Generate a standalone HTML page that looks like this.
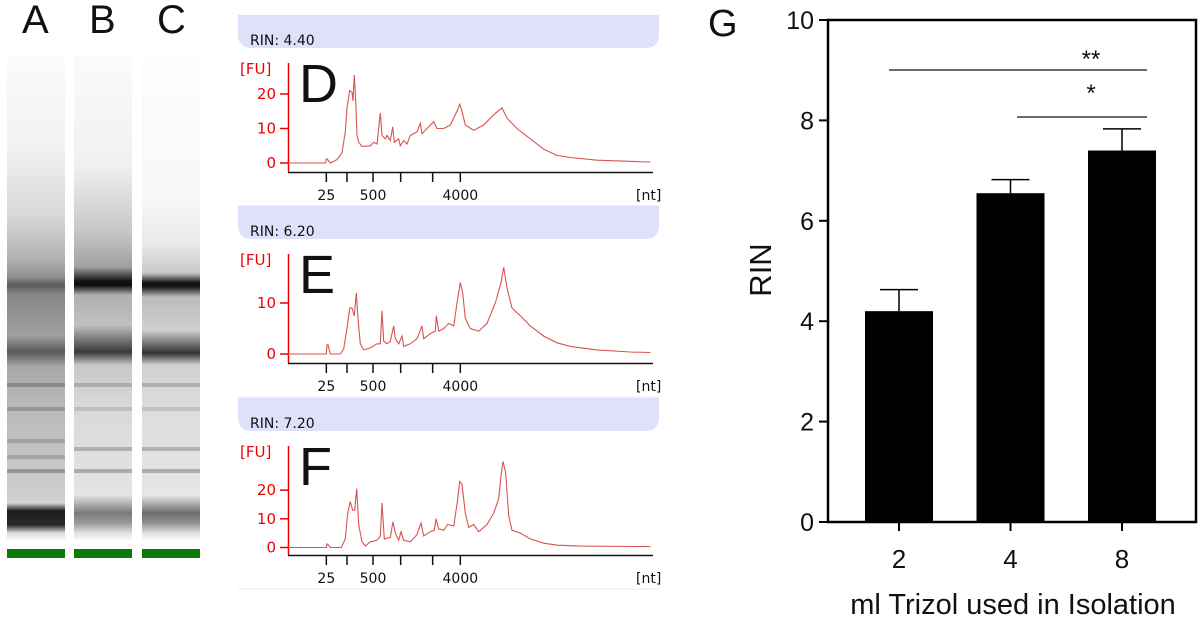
<!DOCTYPE html>
<html><head><meta charset="utf-8">
<style>
html,body{margin:0;padding:0;background:#fff;}
#root{position:relative;width:1200px;height:621px;overflow:hidden;font-family:"Liberation Sans",sans-serif;}
.lane{position:absolute;top:55px;height:485px;}
.band{position:absolute;left:0;right:0;height:4px;}
.green{position:absolute;top:549px;height:9px;background:#0a7a0a;}
.big{position:absolute;font-size:40px;color:#111;}
</style></head>
<body>
<div id="root">
  <div class="big" style="left:22px;top:-2px">A</div>
  <div class="big" style="left:89px;top:-2px">B</div>
  <div class="big" style="left:157px;top:-2px">C</div>
  <div class="lane" id="laneA" style="left:7px;width:58px;background:linear-gradient(#fbfbfb 0px,#f2f2f2 90px,#d8d8d8 160px,#b0b0b0 205px,#909090 222px,#5a5a5a 230px,#888 240px,#a0a0a0 280px,#5a5a5a 297px,#a8a8a8 312px,#b8b8b8 350px,#c4c4c4 400px,#cfcfcf 440px,#d4d4d4 448px,#1a1a1a 456px,#2a2a2a 470px,#ddd 478px,#f6f6f6 485px)">
    <div class="band" style="top:328px;background:rgba(90,90,90,.45)"></div>
    <div class="band" style="top:352px;background:rgba(90,90,90,.35)"></div>
    <div class="band" style="top:384px;background:rgba(90,90,90,.3)"></div>
    <div class="band" style="top:400px;background:rgba(90,90,90,.3)"></div>
    <div class="band" style="top:414px;background:rgba(90,90,90,.45)"></div>
  </div>
  <div class="lane" id="laneB" style="left:74px;width:58px;background:linear-gradient(#fbfbfb 0px,#f0f0f0 110px,#c8c8c8 175px,#a0a0a0 212px,#151515 226px,#0a0a0a 230px,#b0b0b0 240px,#c0c0c0 270px,#3a3a3a 297px,#c8c8c8 310px,#d8d8d8 350px,#e4e4e4 440px,#7a7a7a 458px,#999 468px,#e0e0e0 478px,#fafafa 485px)">
    <div class="band" style="top:328px;background:rgba(90,90,90,.3)"></div>
    <div class="band" style="top:352px;background:rgba(90,90,90,.2)"></div>
    <div class="band" style="top:392px;background:rgba(90,90,90,.35)"></div>
    <div class="band" style="top:414px;background:rgba(90,90,90,.4)"></div>
  </div>
  <div class="lane" id="laneC" style="left:142px;width:58px;background:linear-gradient(#fdfdfd 0px,#f8f8f8 140px,#e8e8e8 190px,#c8c8c8 218px,#111 228px,#1a1a1a 232px,#bcbcbc 242px,#cfcfcf 275px,#333 298px,#cfcfcf 310px,#dcdcdc 350px,#e6e6e6 440px,#6e6e6e 458px,#909090 468px,#e0e0e0 478px,#fafafa 485px)">
    <div class="band" style="top:328px;background:rgba(90,90,90,.3)"></div>
    <div class="band" style="top:352px;background:rgba(90,90,90,.2)"></div>
    <div class="band" style="top:392px;background:rgba(90,90,90,.35)"></div>
    <div class="band" style="top:414px;background:rgba(90,90,90,.4)"></div>
  </div>
  <div class="green" style="left:7px;width:58px"></div>
  <div class="green" style="left:74px;width:58px"></div>
  <div class="green" style="left:142px;width:58px"></div>
  <svg id="epg" width="1200" height="621" style="position:absolute;left:0;top:0"></svg>
</div>
<script>
// Electropherogram data (migration time [s], fluorescence [FU])
const dTime=[8.65,14.3,14.4,14.5,15,16,16.75,17.25,17.5,17.9,18.25,18.4,18.6,18.8,19,19.25,19.75,21,21.5,22,22.5,22.75,23.25,23.5,24,24.35,24.6,25.25,25.5,26,26.5,27,28,28.5,28.75,29.5,30.5,31,32,33,34,34.4,34.75,35.25,36.5,38,39.5,40.75,41.5,43,45,47,49,51,55,62.5,63];
const dFU  =[0,0,1.2,1.2,0,1,3,9,16,21,20.5,18,25.5,18,8,6,4.8,5,6,5.5,14.5,8,7,8,6.5,10.5,6,7,5,6.5,5.5,8,9,11.5,8.5,10,12,10,10,11,15,17,15,11,9.5,11,14,16,13,10,7,4,2.2,1.6,0.8,0.3,0.3];
const eTime=[8.65,14.4,14.5,14.65,15,16.5,17,17.5,17.9,18.25,18.6,18.9,19.15,19.5,20,21,22,22.5,22.75,23,23.5,24,24.5,24.75,25.25,25.75,26,27,28,28.75,29,30,30.75,30.9,31.25,32,32.75,33.5,34,34.5,34.85,35.25,36,37.25,38.5,39.75,40.6,41,41.5,42.25,43.5,45,47,49,51,55,60,63];
const eFU  =[0,0,1.8,1.8,0,0,1,5,9,9,7.5,12,7,2,0.8,1.2,2,2,8.5,2.5,2,2.5,5.5,3,2,3.5,1.5,2,3,5.5,3,4,4.5,7.5,4.5,5,6,5.5,10,14,12,7,5,4.5,6,10,14,17,13,9,7.5,5.5,3.5,2.2,1.5,0.8,0.4,0.3];
const fTime=[8.65,14.4,14.5,14.6,15,16.65,17.25,17.6,18,18.35,18.65,18.95,19.25,19.75,20.25,21,22,22.5,22.75,23.1,24,24.4,24.75,25.25,25.6,26,27,28,28.6,29,30,30.6,30.85,31.25,32,32.6,33.5,34,34.4,34.75,35.25,35.75,36.5,37.25,38.5,39.5,40.25,40.6,40.9,41.3,41.75,42.25,43.5,45,47,49,52.5,63];
const fFU  =[0,0,1.2,1.2,0,0,3,12,16,13,13,20.5,8,2,0.5,2,2.5,4,15.5,3,3.5,9,5,2.5,5.5,2.5,2,4.5,8.5,4,5.5,6,10,6.5,6,8,7.5,15,23,22,12,7,8,5.5,8,12,17,25,30,26,11,6,5,3,1.5,0.8,0.5,0.3];
const yTicksD=[0,10,20], yTicksE=[0,10], yTicksF=[0,10,20];
const xTickTimes=[14.4,17.5,21.4,25.55,30.35,34.5];
const xTickLabels=["25","","500","","","4000"];

const NS="http://www.w3.org/2000/svg";
const svg=document.getElementById('epg');
function mk(tag,attrs,parent){const e=document.createElementNS(NS,tag);for(const k in attrs)e.setAttribute(k,attrs[k]);(parent||svg).appendChild(e);return e;}
function xs(t){return 288+(t*20-173)/3;}

function panel(cfg){
  const g=mk('g',{});
  
  
  const o=cfg.off;
  const hdr=mk('path',{d:`M238 ${15+o} H659 V${34+o} Q659 ${48+o} 645 ${48+o} H252 Q238 ${48+o} 238 ${34+o} Z`,fill:'#dfe0fa'},g);
  
  
  const rt=mk('text',{x:250,y:45+o,'font-size':14,fill:'#111','font-family':'DejaVu Sans, sans-serif'},g);rt.textContent='RIN: '+cfg.rin;
  
  
  const ys=v=>cfg.zero-v*cfg.k;
  mk('line',{x1:288.5,y1:63+o,x2:288.5,y2:172+o,stroke:'#e00','stroke-width':1.5},g);
  mk('line',{x1:288,y1:172.5+o,x2:653,y2:172.5+o,stroke:'#111','stroke-width':1.5},g);
  const fu=mk('text',{x:240,y:74+o,'font-size':15,fill:'#e00','font-family':'DejaVu Sans, sans-serif'},g);fu.textContent='[FU]';
  
  
  const L=mk('text',{x:299,y:102+o,'font-size':54,fill:'#111'},g);L.textContent=cfg.id.toUpperCase();
  
  
  cfg.yt.forEach(v=>{
    mk('line',{x1:280,x2:288,y1:ys(v),y2:ys(v),stroke:'#e00','stroke-width':1.5},g);
    const t=mk('text',{x:276,y:ys(v)+5,'font-size':15,fill:'#e00','text-anchor':'end','font-family':'DejaVu Sans, sans-serif'},g);t.textContent=v;
    
    
  });
  xTickTimes.forEach((tt,i)=>{
    mk('line',{x1:xs(tt),x2:xs(tt),y1:172+o,y2:182+o,stroke:'#111','stroke-width':1.5},g);
    if(xTickLabels[i]){const t=mk('text',{x:xs(tt),y:200+o,'font-size':14,fill:'#111','text-anchor':'middle','font-family':'DejaVu Sans, sans-serif'},g);t.textContent=xTickLabels[i];
      
      }
  });
  const nt=mk('text',{x:636,y:200+o,'font-size':14,fill:'#111','font-family':'DejaVu Sans, sans-serif'},g);nt.textContent='[nt]';
  
  
  mk('line',{x1:238,x2:659,y1:206+o,y2:206+o,stroke:'#e4e6f8','stroke-width':1},g);
  const pts=cfg.t.map((t,i)=>xs(t).toFixed(1)+','+ys(cfg.v[i]).toFixed(1)).join(' ');
  const pl=mk('polyline',{points:pts,fill:'none',stroke:'#d9534f','stroke-width':1.1},g);
  
  
}
panel({id:'d',off:0,rin:'4.40',zero:163,k:3.45,yt:yTicksD,t:dTime,v:dFU});
panel({id:'e',off:191,rin:'6.20',zero:354,k:5.1,yt:yTicksE,t:eTime,v:eFU});
panel({id:'f',off:383,rin:'7.20',zero:547.5,k:2.87,yt:yTicksF,t:fTime,v:fFU});

// Bar chart G
const categories=["2","4","8"];
const rinMeans=[4.2,6.55,7.4];
const rinErrors=[0.43,0.27,0.43];
const gTicks=[0,2,4,6,8,10];
const gy=v=>522-v*50.2;
const gx=i=>899+i*111.5;
const bw=68;
const bg=mk('g',{});


const Gl=mk('text',{x:708,y:36,'font-size':38,fill:'#111'},bg);Gl.textContent='G';


rinMeans.forEach((m,i)=>{
  const r=mk('rect',{x:gx(i)-bw/2,y:gy(m),width:bw,height:gy(0)-gy(m),fill:'#000'},bg);
  
  
  const e=mk('path',{d:`M${gx(i)} ${gy(m)} V${gy(m+rinErrors[i])} M${gx(i)-19} ${gy(m+rinErrors[i])} H${gx(i)+19}`,stroke:'#000','stroke-width':1.5,fill:'none'},bg);
  
  
  mk('line',{x1:gx(i),x2:gx(i),y1:gy(0),y2:gy(0)+9,stroke:'#000','stroke-width':2},bg);
  const t=mk('text',{x:gx(i),y:568,'font-size':26,'text-anchor':'middle',fill:'#111'},bg);t.textContent=categories[i];
  
  
});
mk('rect',{x:828,y:gy(10),width:368,height:gy(0)-gy(10),fill:'none',stroke:'#000','stroke-width':2.5},bg);
gTicks.forEach(v=>{
  mk('line',{x1:819,x2:828,y1:gy(v),y2:gy(v),stroke:'#000','stroke-width':2},bg);
  const t=mk('text',{x:814,y:gy(v)+9,'font-size':25,'text-anchor':'end',fill:'#111'},bg);t.textContent=v;
  
  
});
const s1=mk('line',{x1:889,x2:1147,y1:70,y2:70,stroke:'#111','stroke-width':1.2},bg);


const s2=mk('line',{x1:1017,x2:1147,y1:117,y2:117,stroke:'#111','stroke-width':1.2},bg);


const st1=mk('text',{x:1091,y:67,'font-size':24,fill:'#111','text-anchor':'middle'},bg);st1.textContent='**';


const st2=mk('text',{x:1091,y:101,'font-size':24,fill:'#111','text-anchor':'middle'},bg);st2.textContent='*';


const yl=mk('text',{x:0,y:0,'font-size':31,fill:'#111','text-anchor':'middle',transform:'translate(771,270) rotate(-90)'},bg);yl.textContent='RIN';


const xl=mk('text',{x:1013,y:614,'font-size':29,fill:'#111','text-anchor':'middle'},bg);xl.textContent='ml Trizol used in Isolation';


</script>
</body></html>
